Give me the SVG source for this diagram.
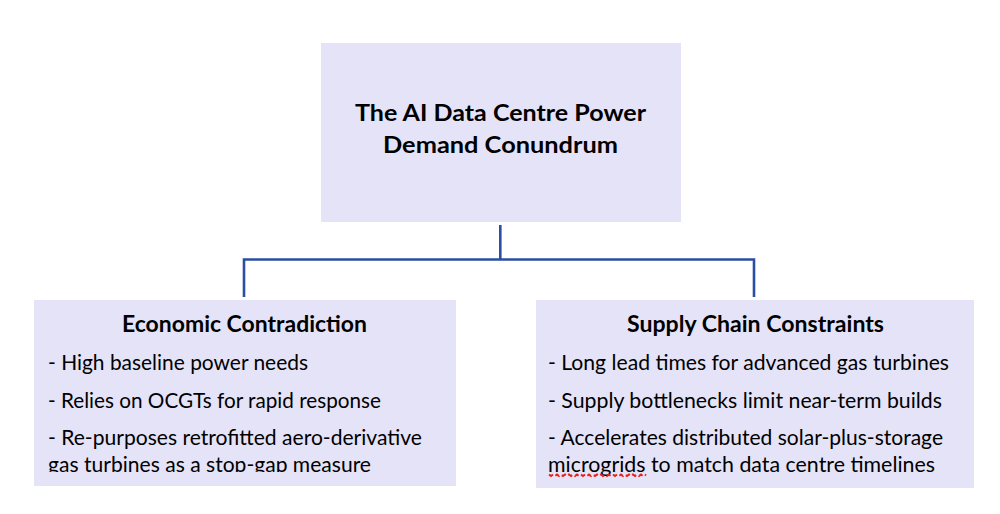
<svg xmlns="http://www.w3.org/2000/svg" width="1000" height="514" viewBox="0 0 1000 514">
<defs>
<style>
.box{fill:#E5E3F8;}
.conn{fill:none;stroke:#2A4EA3;stroke-width:2.6;}
.t{font-family:Lato,"Liberation Sans",sans-serif;fill:#000;}
.title{font-size:23px;font-weight:bold;text-anchor:middle;}
.head{font-size:22px;font-weight:bold;text-anchor:middle;}
.bul{font-size:21.5px;}
.spell{fill:none;stroke:#E8201C;stroke-width:2;stroke-dasharray:5 3;}
</style>
<clipPath id="clipL"><rect x="34" y="300" width="422" height="172"/></clipPath>
</defs>
<rect width="1000" height="514" fill="#fff"/>
<g id="connectors">
<path class="conn" d="M500.3 225 V259.5 M244 259.5 H755 M244 258.2 V297 M754 258.2 V297"/>
</g>
<g id="node-root">
<rect class="box" x="321" y="43" width="360" height="179"/>
<text class="t title" x="500.5" y="121" textLength="291" lengthAdjust="spacingAndGlyphs">The AI Data Centre Power</text>
<text class="t title" x="500.5" y="153" textLength="235" lengthAdjust="spacingAndGlyphs">Demand Conundrum</text>
</g>
<g id="node-economic">
<rect class="box" x="34" y="300" width="422" height="186"/>
<g clip-path="url(#clipL)">
<text class="t head" x="244.5" y="332" textLength="245" lengthAdjust="spacingAndGlyphs">Economic Contradiction</text>
<text class="t bul" x="48" y="370" textLength="260" lengthAdjust="spacingAndGlyphs">- High baseline power needs</text>
<text class="t bul" x="48" y="408" textLength="333" lengthAdjust="spacingAndGlyphs">- Relies on OCGTs for rapid response</text>
<text class="t bul" x="48" y="445" textLength="374" lengthAdjust="spacingAndGlyphs">- Re-purposes retrofitted aero-derivative</text>
<text class="t bul" x="48" y="472" textLength="323" lengthAdjust="spacingAndGlyphs">gas turbines as a stop-gap measure</text>
</g>
</g>
<g id="node-supply">
<rect class="box" x="536" y="300" width="438" height="188"/>
<text class="t head" x="755.5" y="332" textLength="257" lengthAdjust="spacingAndGlyphs">Supply Chain Constraints</text>
<text class="t bul" x="548" y="370" textLength="401" lengthAdjust="spacingAndGlyphs">- Long lead times for advanced gas turbines</text>
<text class="t bul" x="548" y="408" textLength="394" lengthAdjust="spacingAndGlyphs">- Supply bottlenecks limit near-term builds</text>
<text class="t bul" x="548" y="445" textLength="395" lengthAdjust="spacingAndGlyphs">- Accelerates distributed solar-plus-storage</text>
<text class="t bul" x="548" y="472" textLength="387" lengthAdjust="spacingAndGlyphs">microgrids to match data centre timelines</text>
<path class="spell" d="M549 474.5 L551 476 L553 474.5 L555 476 L557 474.5 L559 476 L561 474.5 L563 476 L565 474.5 L567 476 L569 474.5 L571 476 L573 474.5 L575 476 L577 474.5 L579 476 L581 474.5 L583 476 L585 474.5 L587 476 L589 474.5 L591 476 L593 474.5 L595 476 L597 474.5 L599 476 L601 474.5 L603 476 L605 474.5 L607 476 L609 474.5 L611 476 L613 474.5 L615 476 L617 474.5 L619 476 L621 474.5 L623 476 L625 474.5 L627 476 L629 474.5 L631 476 L633 474.5 L635 476 L637 474.5 L639 476 L641 474.5 L643 476 L645 474.5 L646 475.5"/>
</g>
</svg>
